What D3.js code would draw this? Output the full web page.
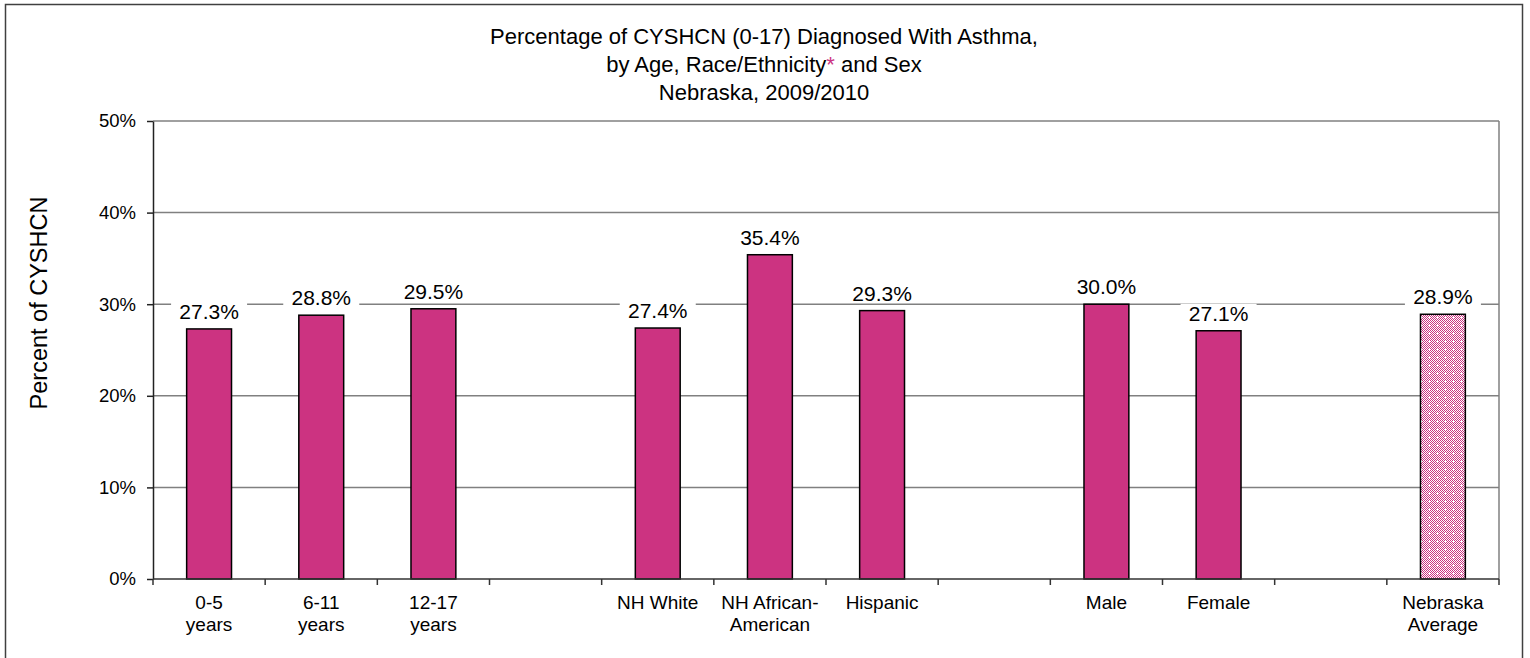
<!DOCTYPE html>
<html>
<head>
<meta charset="utf-8">
<script src="https://cdn.jsdelivr.net/npm/d3@7"></script>
<style>
  body { margin: 0; background: #fff; }
  text { font-family: "Liberation Sans", Arial, sans-serif; fill: #000; }
</style>
</head>
<body>
<script>
var categories = ["0-5\nyears", "6-11\nyears", "12-17\nyears", "", "NH White", "NH African-\nAmerican", "Hispanic", "", "Male", "Female", "", "Nebraska\nAverage"];
var values = [27.3, 28.8, 29.5, null, 27.4, 35.4, 29.3, null, 30.0, 27.1, null, 28.9];
var yTicks = [0, 10, 20, 30, 40, 50];
var averageCategory = "Nebraska\nAverage";
var yTitle = "Percent of CYSHCN";

var barColor = "#cc3381";
var width = 1530, height = 658;
var margin = {left: 153, right: 31, top: 121, bottom: 79};
var plotW = width - margin.left - margin.right;
var plotH = height - margin.top - margin.bottom;

var svg = d3.select("body").append("svg").attr("width", width).attr("height", height);

// checkered fill for the state average bar
var pat = svg.append("defs").append("pattern")
    .attr("id", "checker").attr("width", 8).attr("height", 8)
    .attr("patternUnits", "userSpaceOnUse");
pat.append("rect").attr("width", 8).attr("height", 8).attr("fill", "#fff");
for (var i = 0; i < 8; i++) {
  for (var j = 0; j < 8; j++) {
    if ((i + j) % 2 === 0 && !(i === 4 && j === 4)) {
      pat.append("rect").attr("x", i).attr("y", j).attr("width", 1).attr("height", 1).attr("fill", barColor);
    }
  }
}

// outer chart border
svg.append("rect")
    .attr("x", 5.5).attr("y", 4.5).attr("width", 1517).attr("height", 700)
    .attr("fill", "none").attr("stroke", "#404040").attr("stroke-width", 1.5);

// title
var title = svg.append("text").attr("text-anchor", "middle").style("font-size", "22px");
title.append("tspan").attr("x", 764).attr("y", 44).text("Percentage of CYSHCN (0-17) Diagnosed With Asthma,");
var t2 = title.append("tspan").attr("x", 764).attr("y", 72);
t2.append("tspan").text("by Age, Race/Ethnicity");
t2.append("tspan").style("fill", barColor).text("*");
t2.append("tspan").text(" and Sex");
title.append("tspan").attr("x", 764).attr("y", 100).text("Nebraska, 2009/2010");

var chartGroup = svg.append("g").attr("transform", "translate(" + margin.left + "," + margin.top + ")");

var idx = d3.range(categories.length);
var x = d3.scaleBand().domain(idx).range([0, plotW]).paddingInner(0.6).paddingOuter(0.3);
var slots = d3.scaleBand().domain(idx).range([0, plotW]);
var y = d3.scaleLinear().domain([0, 50]).range([plotH, 0]);

// gridlines + plot border
chartGroup.selectAll(".grid").data(yTicks.filter(function(d) { return d > 0; }))
  .enter().append("line")
    .attr("x1", 0).attr("x2", plotW)
    .attr("y1", function(d) { return y(d); }).attr("y2", function(d) { return y(d); })
    .attr("stroke", "#808080").attr("stroke-width", 1.5);
chartGroup.append("line")
    .attr("x1", plotW).attr("x2", plotW).attr("y1", 0).attr("y2", plotH)
    .attr("stroke", "#808080").attr("stroke-width", 1.5);

// bars
var barData = idx.filter(function(i) { return values[i] != null; });
chartGroup.selectAll(".bar").data(barData)
  .enter().append("rect")
    .attr("x", function(i) { return x(i); })
    .attr("width", x.bandwidth())
    .attr("y", function(i) { return y(values[i]); })
    .attr("height", function(i) { return plotH - y(values[i]); })
    .attr("fill", function(i) { return categories[i] === averageCategory ? "url(#checker)" : barColor; })
    .attr("stroke", "#000").attr("stroke-width", 1.5);

// value labels
var lab = chartGroup.selectAll(".lab").data(barData).enter().append("g");
lab.append("rect")
    .attr("x", function(i) { return x(i) + x.bandwidth() / 2 - 38; })
    .attr("y", function(i) { return y(values[i]) - 27; })
    .attr("width", 76).attr("height", 18)
    .attr("fill", "#fff");
lab.append("text")
    .attr("x", function(i) { return x(i) + x.bandwidth() / 2; })
    .attr("y", function(i) { return y(values[i]) - 10; })
    .attr("text-anchor", "middle")
    .style("font-size", "21px")
    .text(function(i) { return values[i].toFixed(1) + "%"; });

// y axis
var yAxis = d3.axisLeft(y).tickValues(yTicks).tickFormat(function(d) { return d + "%"; })
    .tickSize(6).tickSizeOuter(0).tickPadding(11);
var yg = chartGroup.append("g").call(yAxis);
yg.selectAll("text").style("font-size", "18.5px").style("font-family", "'Liberation Sans', Arial, sans-serif");
yg.selectAll("line, path").attr("stroke", "#222").attr("stroke-width", 1.5);

// x axis: ticks on category boundaries
var xg = chartGroup.append("g").attr("transform", "translate(0," + plotH + ")");
xg.append("line").attr("x1", 0).attr("x2", plotW).attr("stroke", "#333").attr("stroke-width", 1.5);
xg.selectAll(".tick").data(idx.map(function(i) { return slots(i); }).concat([plotW]))
  .enter().append("line")
    .attr("x1", function(d) { return d; }).attr("x2", function(d) { return d; })
    .attr("y1", 0).attr("y2", 6)
    .attr("stroke", "#333").attr("stroke-width", 1.5);
var xl = xg.selectAll(".xl").data(idx).enter().append("text")
    .attr("text-anchor", "middle").style("font-size", "19px")
    .attr("transform", function(i) { return "translate(" + (x(i) + x.bandwidth() / 2) + ",30)"; });
xl.selectAll("tspan").data(function(i) { return categories[i].split("\n"); })
  .enter().append("tspan")
    .attr("x", 0).attr("dy", function(d, k) { return k === 0 ? 0 : 22; })
    .text(function(d) { return d; });

// y axis title
svg.append("text")
    .attr("transform", "translate(47,303) rotate(-90)")
    .attr("text-anchor", "middle")
    .style("font-size", "23.5px")
    .text(yTitle);
</script>
</body>
</html>
